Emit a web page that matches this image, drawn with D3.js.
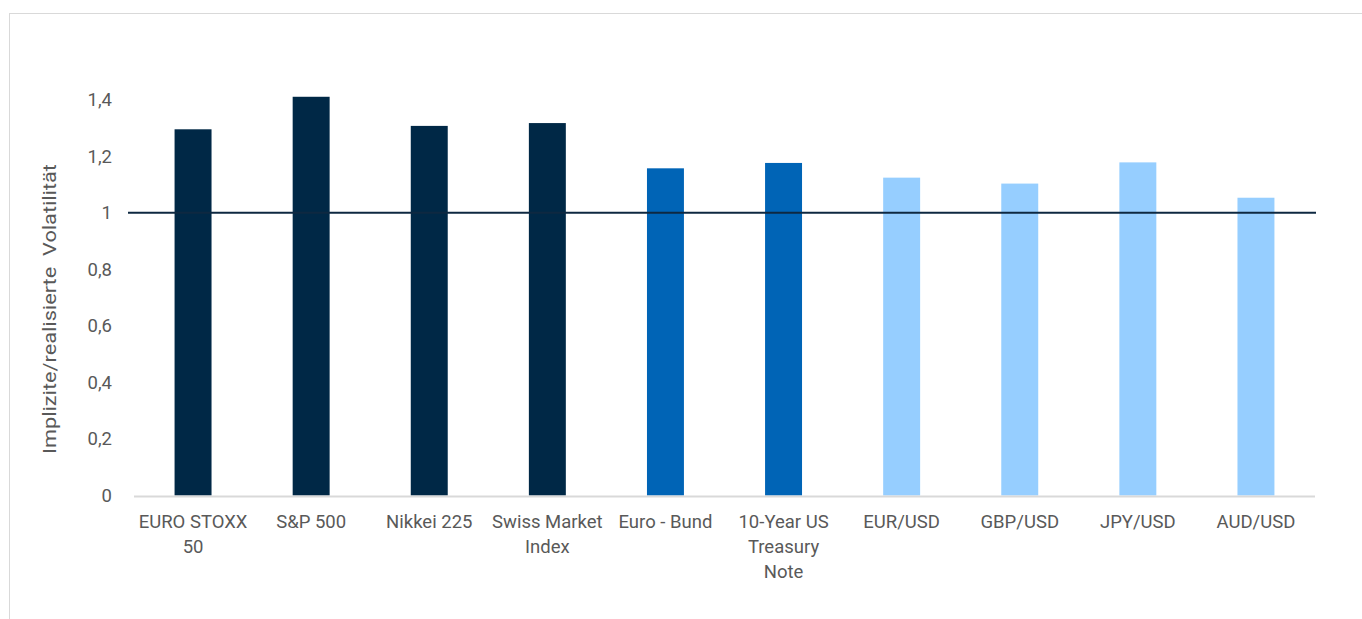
<!DOCTYPE html>
<html lang="de">
<head>
<meta charset="UTF-8">
<title>Implizite/realisierte Volatilität</title>
<script src="https://d3js.org/d3.v7.min.js"></script>
<style>
    body { margin: 0; background: #fff; }
    svg { display: block; font-family: Roboto, "Open Sans", sans-serif; }
    .tick-label, .cat-label, .axis-title { fill: #595959; }
    .cat-label { font-size: 18.5px; }
    .axis-title { font-size: 18px; }
</style>
</head>
<body>
<svg width="1362" height="619"></svg>
<script>
    // categories, one array of lines per label (as wrapped in the chart)
    const categories = ["EURO STOXX 50", "S&P 500", "Nikkei 225", "Swiss Market Index", "Euro - Bund",
        "10-Year US Treasury Note", "EUR/USD", "GBP/USD", "JPY/USD", "AUD/USD"];
    const labelLines = [["EURO STOXX", "50"], ["S&P 500"], ["Nikkei 225"], ["Swiss Market", "Index"], ["Euro - Bund"],
        ["10-Year US", "Treasury", "Note"], ["EUR/USD"], ["GBP/USD"], ["JPY/USD"], ["AUD/USD"]];
    const ratios = [1.295, 1.410, 1.307, 1.317, 1.157, 1.176, 1.124, 1.103, 1.178, 1.053];
    // asset class per bar: equity, bond, fx
    const groups = ["equity", "equity", "equity", "equity", "bond", "bond", "fx", "fx", "fx", "fx"];
    const yTicks = [0, 0.2, 0.4, 0.6, 0.8, 1, 1.2, 1.4];
    const referenceLevel = 1;

    const colors = { equity: "#002846", bond: "#0064B6", fx: "#96CEFF" };

    const svg = d3.select("svg");
    const fmt = d3.formatLocale({ decimal: ",", thousands: ".", grouping: [3], currency: ["", "€"] }).format("~g");

    // outer frame of the chart area
    svg.append("rect")
        .attr("x", 9.5).attr("y", 13.5)
        .attr("width", 1400).attr("height", 700)
        .attr("fill", "none").attr("stroke", "#d9d9d9");

    const x = d3.scaleBand()
        .domain(categories)
        .range([134, 1315])
        .paddingInner(0.687)
        .paddingOuter(0.3435);

    const y = d3.scaleLinear()
        .domain([0, 1.4])
        .range([495.5, 99.6]);

    // y axis labels (no line, no ticks)
    const yAxis = svg.append("g")
        .attr("transform", "translate(112,0)")
        .call(d3.axisLeft(y).tickValues(yTicks).tickFormat(fmt).tickSize(0).tickPadding(0));
    yAxis.select(".domain").remove();
    yAxis.selectAll("text")
        .attr("class", "tick-label")
        .attr("fill", null)
        .style("font-size", "18.5px")
        .style("font-family", "Roboto, sans-serif");

    // bars
    svg.append("g")
        .selectAll("rect")
        .data(ratios)
        .join("rect")
        .attr("x", (d, i) => x(categories[i]))
        .attr("y", d => y(d))
        .attr("width", x.bandwidth())
        .attr("height", d => y(0) - y(d))
        .attr("fill", (d, i) => colors[groups[i]]);

    // category axis line
    svg.append("line")
        .attr("x1", 134).attr("x2", 1315)
        .attr("y1", y(0) + 1).attr("y2", y(0) + 1)
        .attr("stroke", "#d9d9d9").attr("stroke-width", 2);

    // reference line at 1
    svg.append("line")
        .attr("x1", 128).attr("x2", 1316)
        .attr("y1", y(referenceLevel)).attr("y2", y(referenceLevel))
        .attr("stroke", "#0E2841").attr("stroke-width", 2);

    // category labels
    const cat = svg.append("g")
        .selectAll("text")
        .data(categories)
        .join("text")
        .attr("class", "cat-label")
        .attr("text-anchor", "middle")
        .attr("x", d => x(d) + x.bandwidth() / 2)
        .attr("y", 528);
    cat.selectAll("tspan")
        .data((d, i) => labelLines[i])
        .join("tspan")
        .attr("x", function () { return this.parentNode.getAttribute("x"); })
        .attr("dy", (d, j) => j === 0 ? 0 : 25)
        .text(d => d);

    // y axis title
    svg.append("text")
        .attr("class", "axis-title")
        .attr("text-anchor", "middle")
        .attr("transform", "translate(50,309) rotate(-90)")
        .attr("dy", "0.35em")
        .attr("textLength", 290)
        .attr("lengthAdjust", "spacingAndGlyphs")
        .style("white-space", "pre")
        .text("Implizite/realisierte  Volatilität");
</script>
</body>
</html>
